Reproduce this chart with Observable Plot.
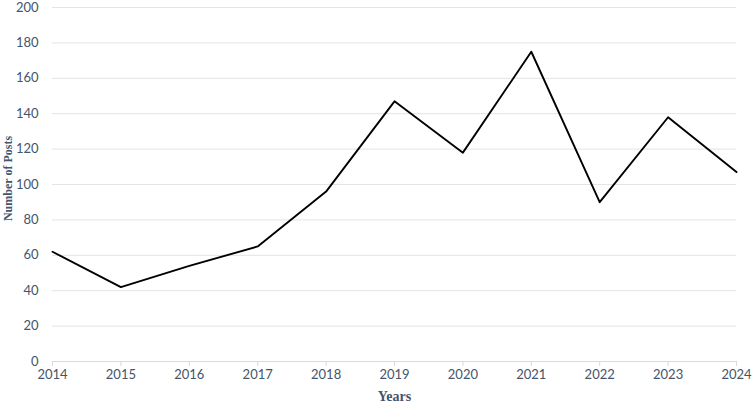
<!DOCTYPE html>
<html>
<head>
<meta charset="utf-8">
<script src="https://cdn.jsdelivr.net/npm/d3@7"></script>
<script src="https://cdn.jsdelivr.net/npm/@observablehq/plot@0.6"></script>
<style>
  html, body { margin: 0; padding: 0; background: #fff; }
</style>
</head>
<body>
<div id="chart"></div>
<script>
const years = [2014, 2015, 2016, 2017, 2018, 2019, 2020, 2021, 2022, 2023, 2024];
const posts = [62, 42, 54, 65, 96, 147, 118, 175, 90, 138, 107];
const yTicks = [0, 20, 40, 60, 80, 100, 120, 140, 160, 180, 200];

const data = years.map((y, i) => ({year: y, posts: posts[i]}));
const labelColor = "#44546a";

const chart = Plot.plot({
  width: 752,
  height: 405,
  marginLeft: 52,
  marginRight: 16,
  marginTop: 7,
  marginBottom: 44,
  style: {fontFamily: "Lato, sans-serif", fontSize: "13px", color: labelColor, background: "#fff"},
  x: {domain: [2014, 2024]},
  y: {domain: [0, 200]},
  marks: [
    Plot.gridY(yTicks, {stroke: "#e3e3e8", strokeOpacity: 1, strokeWidth: 1}),
    Plot.ruleY([0], {stroke: "#d9d9e0", strokeWidth: 1}),
    Plot.axisY(yTicks, {tickSize: 0, tickPadding: 14, label: null, fill: labelColor, fontSize: 13}),
    Plot.axisX(years, {tickSize: 5, tickPadding: 3, tickFormat: "d", label: null, stroke: "#d9d9e0", fill: labelColor, fontSize: 13}),
    Plot.line(data, {x: "year", y: "posts", stroke: "#000", strokeWidth: 1.9}),
    Plot.text(["Years"], {frameAnchor: "bottom", dy: 39, fontWeight: "bold", fontFamily: "Liberation Serif, serif", fontSize: 14, fill: labelColor}),
    Plot.text(["Number of Posts"], {frameAnchor: "left", textAnchor: "middle", dx: -44, dy: -6, rotate: -90, fontWeight: "bold", fontFamily: "Liberation Serif, serif", fontSize: 12, fill: labelColor})
  ]
});
document.getElementById("chart").appendChild(chart);
</script>
</body>
</html>
